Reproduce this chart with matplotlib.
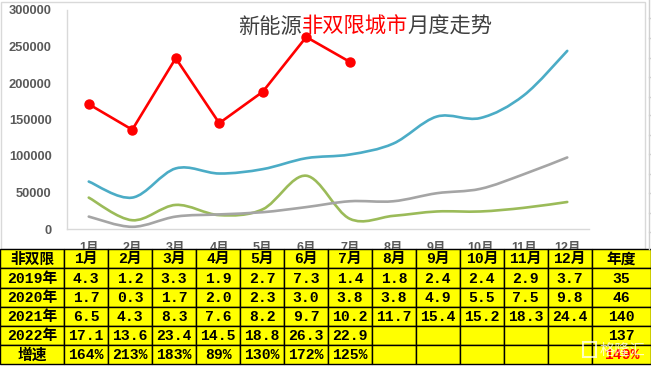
import numpy as np
import matplotlib.pyplot as plt
from matplotlib.path import Path
from matplotlib.patches import PathPatch, Rectangle

plt.rcParams['font.family'] = ['Liberation Sans', 'Noto Sans CJK SC']

## data (unit: 10,000 vehicles)
months = ['1月', '2月', '3月', '4月', '5月', '6月', '7月', '8月', '9月', '10月', '11月', '12月']
sales_2019 = [4.3, 1.2, 3.3, 1.9, 2.7, 7.3, 1.4, 1.8, 2.4, 2.4, 2.9, 3.7]
sales_2020 = [1.7, 0.3, 1.7, 2.0, 2.3, 3.0, 3.8, 3.8, 4.9, 5.5, 7.5, 9.8]
sales_2021 = [6.5, 4.3, 8.3, 7.6, 8.2, 9.7, 10.2, 11.7, 15.4, 15.2, 18.3, 24.4]
sales_2022 = [17.1, 13.6, 23.4, 14.5, 18.8, 26.3, 22.9]
growth = ['164%', '213%', '183%', '89%', '130%', '172%', '125%']
row_labels = ['2019年', '2020年', '2021年', '2022年', '增速']
annual = ['35', '46', '140', '137', '149%']
yticks = [0, 50000, 100000, 150000, 200000, 250000, 300000]


def smooth_path(xs, ys):
    # excel style smoothed line, cubic bezier through every point
    pts = np.column_stack([xs, ys]).astype(float)
    n = len(pts)
    verts = [pts[0]]
    codes = [Path.MOVETO]
    for i in range(n - 1):
        p0 = pts[max(i - 1, 0)]
        p1 = pts[i]
        p2 = pts[i + 1]
        p3 = pts[min(i + 2, n - 1)]
        verts += [p1 + (p2 - p0) / 6, p2 - (p3 - p1) / 6, p2]
        codes += [Path.CURVE4] * 3
    return Path(verts, codes)


W, H = 651, 366
fig = plt.figure(figsize=(W / 100, H / 100), dpi=100)
fig.patch.set_facecolor('white')

ax = fig.add_axes([67 / W, (H - 229) / H, 522 / W, 219 / H])
x = np.arange(len(months))
for vals, col in [(sales_2019, '#9BBB59'), (sales_2020, '#A5A5A5'), (sales_2021, '#4BACC6')]:
    p = smooth_path(x[:len(vals)], np.array(vals) * 10000)
    ax.add_patch(PathPatch(p, facecolor='none', edgecolor=col, lw=1.9, capstyle='round'))
ax.plot(x[:len(sales_2022)], np.array(sales_2022) * 10000, color='#FF0000', lw=1.9,
        marker='o', markersize=6.5)

ax.set_xlim(-0.5, 11.5)
ax.set_ylim(0, 300000)
ax.set_xticks(x)
ax.set_xticklabels(months, fontsize=9, fontweight='bold', color='#595959')
ax.set_yticks(yticks)
ax.set_yticklabels([str(v) for v in yticks], fontsize=9.3, fontweight='bold', color='#595959')
ax.tick_params(axis='y', length=0, pad=11)
ax.tick_params(axis='x', length=0, pad=9)
for s in ['top', 'right']:
    ax.spines[s].set_visible(False)
for s in ['left', 'bottom']:
    ax.spines[s].set_color('#D9D9D9')
    ax.spines[s].set_linewidth(1)

## overlay in pixel coords: border, title, table
ov = fig.add_axes([0, 0, 1, 1], zorder=5)
ov.set_xlim(0, W)
ov.set_ylim(H, 0)
ov.axis('off')
ov.patch.set_visible(False)

ov.add_patch(Rectangle((0.5, 2), 644.5, 247, facecolor='none', edgecolor='#D9D9D9', lw=1))
ov.plot([648.5, 648.5], [0, 249], color='#D0D0D0', lw=1)
for yy in [18.3, 38.3, 58.3, 77.3, 96.7, 115, 134.5, 154, 173.5, 193, 212.5, 232]:
    ov.plot([648.5, 651], [yy, yy], color='#D0D0D0', lw=1)

# title with red middle part
title_parts = [('新能源', '#404040'), ('非双限城市', '#FF0000'), ('月度走势', '#404040')]
tx = 238
cw = 21.2
for txt, col in title_parts:
    ov.text(tx, 27, txt, fontsize=15.3, color=col, va='center', ha='left',
            family=['Noto Sans CJK SC'])
    tx += cw * len(txt)

# table
top = 249.3
rh = 19.17
col_edges = [0, 64.3] + [64.3 + 43.95 * (i + 1) for i in range(12)] + [W]
header = ['非双限'] + months + ['年度']
rows = [header]
for lab, vals, tot in zip(row_labels[:4], [sales_2019, sales_2020, sales_2021, sales_2022], annual[:4]):
    cells = [f'{v:.1f}' for v in vals] + [''] * (12 - len(vals))
    rows.append([lab] + cells + [tot])
rows.append([row_labels[4]] + growth + [''] * (12 - len(growth)) + [annual[4]])

tfont = ['Liberation Mono', 'Noto Sans CJK SC']
for r, row in enumerate(rows):
    y0 = top + r * rh
    for c, txt in enumerate(row):
        x0, x1 = col_edges[c], col_edges[c + 1]
        ov.add_patch(Rectangle((x0, y0), x1 - x0, rh, facecolor='#FFFF00',
                               edgecolor='black', lw=1))
        if txt:
            color = '#FF0000' if (r == 5 and c == 13) else 'black'
            ov.text((x0 + x1) / 2, y0 + rh / 2 + 0.5, txt, fontsize=10.6, fontweight='bold',
                    color=color, ha='center', va='center', family=tfont)

# watermark
ov.text(600, 350, '格隆汇', fontsize=11, color='white', alpha=0.75, ha='left', va='center',
        family=['Noto Sans CJK SC'])
ov.add_patch(Rectangle((583, 342), 13, 15, facecolor='none', edgecolor='white', alpha=0.75, lw=1.5))

fig.savefig('out.png', dpi=100)
